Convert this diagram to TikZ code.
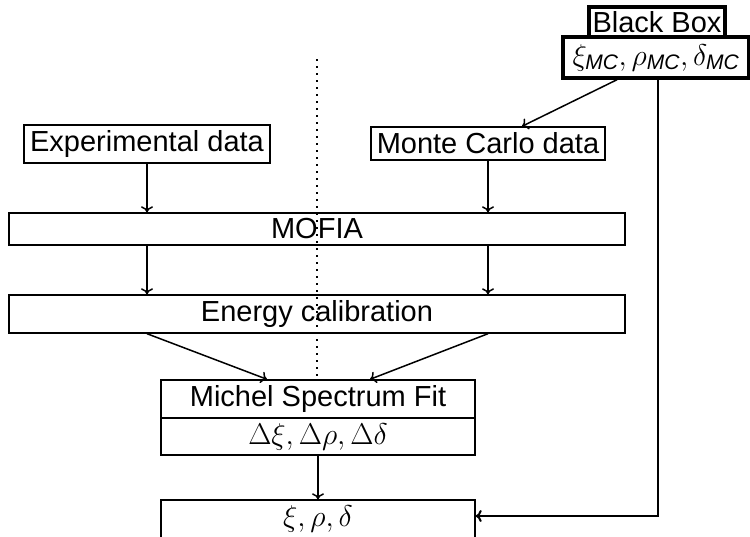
\RequirePackage{fix-cm}
\documentclass[tikz,border=0pt]{standalone}
\usepackage{amsmath}
\usepackage[no-math]{fontspec}
\setmainfont{Liberation Sans}
\usetikzlibrary{arrows.meta}
\begin{document}
\begin{tikzpicture}[x=1pt,y=-1pt,
  font=\fontsize{29}{34}\selectfont,
  mathsize/.style={font=\fontsize{30}{35}\selectfont},
  box/.style={draw, line width=1.4pt, inner sep=0pt, minimum height=#1},
  bbox/.style={draw, line width=3.4pt, inner sep=0pt},
  arr/.style={line width=1.5pt, -{To[length=6pt,width=12pt]}},
  arrthick/.style={line width=2pt, -{To[length=6pt,width=12pt]}},
  dotline/.style={line width=1.8pt, dash pattern=on 1.8pt off 5.2pt}
]
\useasboundingbox (0,0) rectangle (750,536);
\node[box=38, minimum width=246] (exp) at (147,144) {Experimental data};
\node[box=33, minimum width=234] (mc) at (488,143.5) {Monte Carlo data};
\node[box=32, minimum width=616] (mofia) at (317,229) {MOFIA};
\node[box=38, minimum width=616] (energy) at (317,314) {Energy calibration};
\node[box=38, minimum width=314] (mich) at (318,399) {Michel Spectrum Fit};
\node[box=37, minimum width=314, mathsize] (dmich) at (318,436.5) {$\Delta\xi, \Delta\rho, \Delta\delta$};
\node[box=38, minimum width=314, mathsize] (res) at (318,519) {$\xi, \rho, \delta$};
\node[bbox, minimum width=136, minimum height=30] (bb1) at (657,22) {Black Box};
\node[bbox, minimum width=186, minimum height=41, font=\fontsize{30}{35}\selectfont] (bb2) at (656,57.5) {$\xi_{\textit{MC}}, \rho_{\textit{MC}}, \delta_{\textit{MC}}$};
\draw[arr] (exp.south) -- (exp.south |- mofia.north);
\draw[arr] (mc.south) -- (mc.south |- mofia.north);
\draw[arr] (exp.south |- mofia.south) -- (exp.south |- energy.north);
\draw[arr] (mc.south |- mofia.south) -- (mc.south |- energy.north);
\draw[arr] (exp.south |- energy.south) -- ([xshift=-51]mich.north);
\draw[arr] (mc.south |- energy.south) -- ([xshift=52]mich.north);
\draw[arr] (dmich.south) -- (res.north);
\draw[arr] ([xshift=-39]bb2.south) -- ([xshift=34]mc.north);
\draw[arrthick] ([xshift=2]bb2.south) |- ([yshift=3]res.east);
\coordinate (dtop) at (317,59);
\draw[dotline] (dtop) -- (dtop |- mich.north);
\end{tikzpicture}
\end{document}
